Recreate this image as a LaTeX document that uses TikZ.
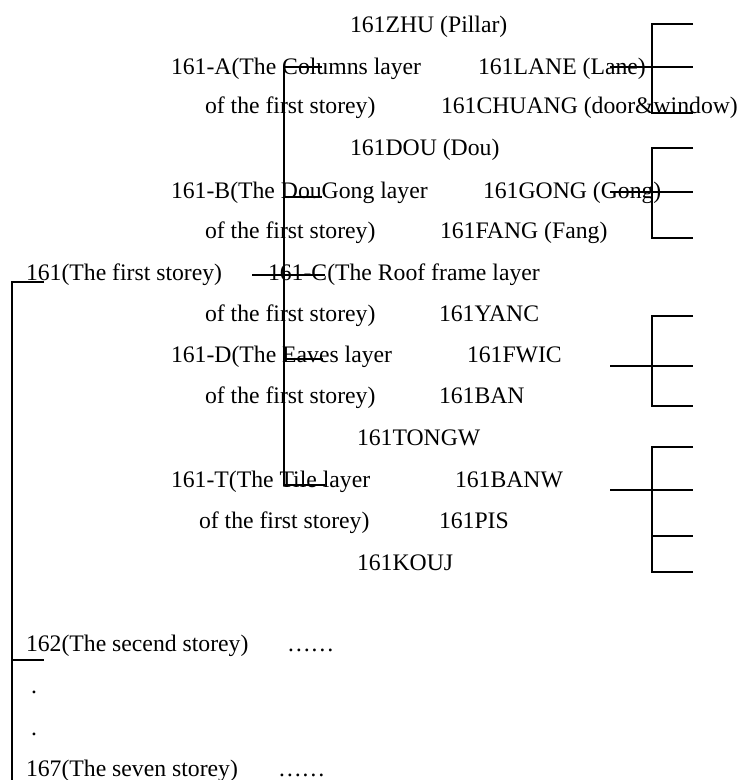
\documentclass[tikz,border=0pt]{standalone}
\usepackage{fontspec}
\setmainfont{Liberation Serif}
\begin{document}
\begin{tikzpicture}[x=1pt,y=-1pt,
  lbl/.style={anchor=base west,inner sep=0pt,outer sep=0pt,font=\fontsize{23.7}{28}\selectfont},
  brk/.style={line width=1.1pt}]
\useasboundingbox (0,0) rectangle (737,780);
% texts
\node[lbl] (zhu) at (350,32) {161ZHU (Pillar)};
\node[lbl] (a1) at (171,74) {161-A(The Columns layer};
\node[lbl] (lane) at (478,74) {161LANE (Lane)};
\node[lbl] (a2) at (205,113) {of the first storey)};
\node[lbl] (chuang) at (441,113) {161CHUANG (door\&window)};
\node[lbl] (dou) at (350,155) {161DOU (Dou)};
\node[lbl] (b1) at (171,198) {161-B(The DouGong layer};
\node[lbl] (gong) at (483,198) {161GONG (Gong)};
\node[lbl] (b2) at (205,238) {of the first storey)};
\node[lbl] (fang) at (440,238) {161FANG (Fang)};
\node[lbl] (s161) at (26,280) {161(The first storey)};
\node[lbl] (c1) at (268,280) {161-C(The Roof frame layer};
\node[lbl] (c2) at (205,321) {of the first storey)};
\node[lbl] (yanc) at (439,321) {161YANC};
\node[lbl] (d1) at (171,362) {161-D(The Eaves layer};
\node[lbl] (fwic) at (467,362) {161FWIC};
\node[lbl] (d2) at (205,403) {of the first storey)};
\node[lbl] (ban) at (439,403) {161BAN};
\node[lbl] (tongw) at (357,445) {161TONGW};
\node[lbl] (t1) at (171,487) {161-T(The Tile layer};
\node[lbl] (banw) at (455,487) {161BANW};
\node[lbl] (t2) at (199,528) {of the first storey)};
\node[lbl] (pis) at (439,528) {161PIS};
\node[lbl] (kouj) at (357,570) {161KOUJ};
\node[lbl] (s162) at (26,651) {162(The secend storey)};
\node[lbl] (e162) at (287,651) {……};
\node[lbl] (dot1) at (31,693) {.};
\node[lbl] (dot2) at (31,735) {.};
\node[lbl] (s167) at (26,776) {167(The seven storey)};
\node[lbl] (e167) at (278,776) {……};
% left bracket
\coordinate (L0) at (12,282);
\coordinate (L1) at (12,780);
\coordinate (L2) at (12,660);
\draw[brk] (44,282) -- (L0) -- (L1);
\draw[brk] (L2) -- (44,660);
% middle bracket
\coordinate (M0) at (284,67);
\coordinate (M1) at (284,485);
\draw[brk] (322,67) -- (M0) -- (M1) -- (325,485);
\draw[brk] (283,197) -- (322,197);
\draw[brk] (252,275) -- (325,275);
\draw[brk] (283,359) -- (323,359);
% right brackets
\foreach \top/\mid/\bot in {24/67/113, 148/192/238, 316/366/406}{
  \draw[brk] (693,\top) -- (652,\top) -- (652,\bot) -- (693,\bot);
  \draw[brk] (610,\mid) -- (693,\mid);
}
\draw[brk] (693,447) -- (652,447) -- (652,572) -- (693,572);
\draw[brk] (610,490) -- (693,490);
\draw[brk] (652,536) -- (693,536);
\end{tikzpicture}
\end{document}
